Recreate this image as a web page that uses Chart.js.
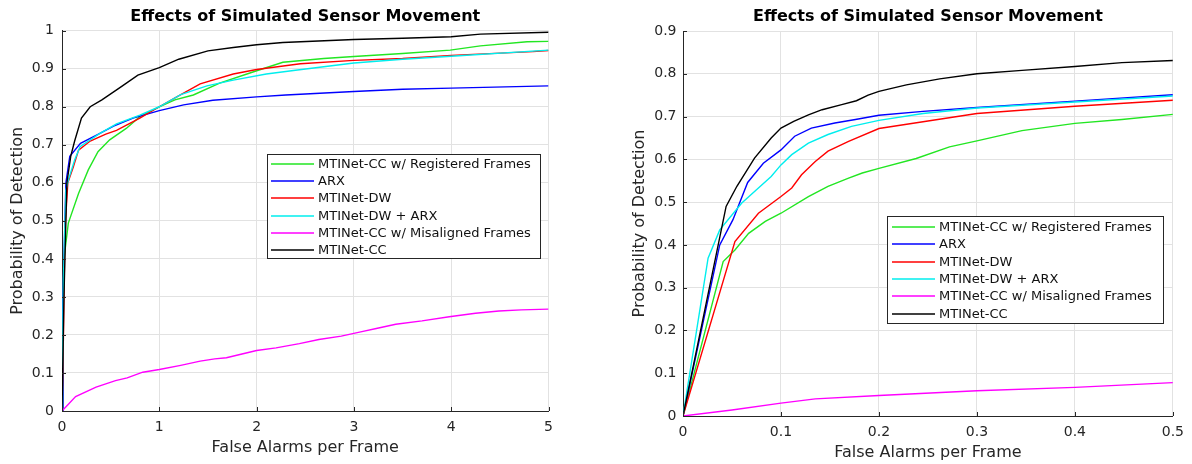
<!DOCTYPE html>
<html>
<head>
<meta charset="utf-8">
<script src="https://cdn.jsdelivr.net/npm/chart.js@4.4.1/dist/chart.umd.min.js"></script>
<style>
  html, body { margin: 0; padding: 0; background: #fff; }
  #wrap { position: relative; width: 1192px; height: 464px; overflow: hidden; }
  .pane { position: absolute; top: 0; height: 464px; }
  #paneA { left: 0; width: 600px; }
  #paneB { left: 600px; width: 592px; }
</style>
</head>
<body>
<div id="wrap">
  <div class="pane" id="paneA"><canvas id="chartA"></canvas></div>
  <div class="pane" id="paneB"><canvas id="chartB"></canvas></div>
</div>
<script>
// ---- shared text ----
const TITLE = 'Effects of Simulated Sensor Movement';
const X_LABEL = 'False Alarms per Frame';
const Y_LABEL = 'Probability of Detection';
const SERIES_NAMES = [
  'MTINet-CC w/ Registered Frames',
  'ARX',
  'MTINet-DW',
  'MTINet-DW + ARX',
  'MTINet-CC w/ Misaligned Frames',
  'MTINet-CC'
];
const SERIES_COLORS = ['#22e622', '#0000ff', '#ff0000', '#00eeee', '#ff00ff', '#000000'];

// ---- left panel: full range (false alarms 0..5) ----
const A_X_TICKS = ['0', '1', '2', '3', '4', '5'];
const A_Y_TICKS = ['0', '0.1', '0.2', '0.3', '0.4', '0.5', '0.6', '0.7', '0.8', '0.9', '1'];
const A_REGISTERED = [[0,0],[0.01,0.25],[0.02,0.40],[0.065,0.494],[0.17,0.572],[0.27,0.634],[0.37,0.682],[0.49,0.713],[0.66,0.743],[0.8,0.774],[1.0,0.80],[1.16,0.818],[1.35,0.831],[1.62,0.862],[1.97,0.892],[2.27,0.917],[2.69,0.927],[3.0,0.932],[3.5,0.94],[3.99,0.949],[4.3,0.96],[4.78,0.971],[5.0,0.972]];
const A_ARX = [[0,0],[0.01,0.30],[0.04,0.60],[0.08,0.67],[0.19,0.704],[0.36,0.726],[0.53,0.749],[0.73,0.77],[1.0,0.79],[1.25,0.805],[1.55,0.817],[2.0,0.826],[2.3,0.831],[3.0,0.84],[3.5,0.846],[4.0,0.849],[5.0,0.855]];
const A_DW = [[0,0],[0.015,0.20],[0.03,0.476],[0.06,0.60],[0.117,0.642],[0.17,0.686],[0.29,0.71],[0.45,0.728],[0.56,0.738],[0.8,0.77],[1.0,0.80],[1.18,0.826],[1.42,0.86],[1.76,0.886],[2.0,0.898],[2.45,0.913],[3.0,0.922],[3.5,0.927],[4.0,0.935],[4.84,0.945],[5.0,0.948]];
const A_DW_ARX = [[0,0],[0.015,0.35],[0.04,0.58],[0.065,0.607],[0.13,0.66],[0.185,0.695],[0.39,0.73],[0.56,0.755],[0.8,0.778],[1.0,0.80],[1.22,0.832],[1.49,0.855],[1.76,0.87],[2.1,0.886],[2.4,0.896],[3.0,0.915],[3.5,0.925],[4.0,0.933],[5.0,0.949]];
const A_MISALIGNED = [[0,0],[0.14,0.038],[0.35,0.063],[0.55,0.08],[0.67,0.087],[0.83,0.102],[1.0,0.109],[1.22,0.12],[1.42,0.131],[1.57,0.137],[1.69,0.14],[1.85,0.15],[2.0,0.159],[2.2,0.166],[2.44,0.177],[2.64,0.188],[2.87,0.197],[3.07,0.208],[3.23,0.217],[3.43,0.228],[3.7,0.237],[3.98,0.248],[4.25,0.257],[4.49,0.263],[4.72,0.266],[5.0,0.268]];
const A_CC = [[0,0],[0.02,0.30],[0.05,0.60],[0.09,0.67],[0.13,0.71],[0.2,0.77],[0.29,0.80],[0.41,0.818],[0.61,0.853],[0.78,0.883],[1.0,0.903],[1.2,0.925],[1.5,0.947],[1.76,0.956],[2.0,0.963],[2.27,0.969],[3.0,0.977],[3.5,0.98],[4.0,0.984],[4.3,0.991],[5.0,0.996]];

// ---- right panel: low false-alarm region (0..0.5) ----
const B_X_TICKS = ['0', '0.1', '0.2', '0.3', '0.4', '0.5'];
const B_Y_TICKS = ['0', '0.1', '0.2', '0.3', '0.4', '0.5', '0.6', '0.7', '0.8', '0.9'];
const B_REGISTERED = [[0,0],[0.041,0.361],[0.053,0.388],[0.067,0.427],[0.084,0.455],[0.1,0.474],[0.128,0.513],[0.148,0.537],[0.169,0.556],[0.183,0.568],[0.2,0.579],[0.238,0.602],[0.272,0.629],[0.3,0.643],[0.346,0.667],[0.4,0.684],[0.448,0.693],[0.5,0.705]];
const B_ARX = [[0,0],[0.0375,0.40],[0.051,0.459],[0.066,0.546],[0.082,0.591],[0.1,0.622],[0.114,0.654],[0.131,0.673],[0.155,0.685],[0.176,0.693],[0.2,0.703],[0.245,0.712],[0.3,0.721],[0.4,0.736],[0.5,0.751]];
const B_DW = [[0,0],[0.053,0.408],[0.077,0.474],[0.1,0.513],[0.111,0.533],[0.121,0.564],[0.135,0.595],[0.148,0.619],[0.169,0.642],[0.2,0.672],[0.245,0.688],[0.3,0.707],[0.4,0.724],[0.5,0.738]];
const B_DW_ARX = [[0,0],[0.0256,0.369],[0.0375,0.435],[0.06,0.498],[0.075,0.529],[0.09,0.56],[0.1,0.587],[0.111,0.611],[0.128,0.638],[0.148,0.658],[0.172,0.677],[0.2,0.691],[0.245,0.707],[0.3,0.72],[0.4,0.734],[0.5,0.748]];
const B_MISALIGNED = [[0,0],[0.05,0.014],[0.1,0.03],[0.135,0.04],[0.2,0.048],[0.3,0.059],[0.4,0.067],[0.5,0.078]];
const B_CC = [[0,0],[0.044,0.49],[0.055,0.537],[0.073,0.603],[0.09,0.65],[0.1,0.673],[0.113,0.689],[0.128,0.704],[0.142,0.716],[0.162,0.728],[0.177,0.737],[0.189,0.75],[0.2,0.759],[0.228,0.774],[0.262,0.788],[0.3,0.80],[0.346,0.808],[0.4,0.817],[0.448,0.826],[0.5,0.831]];

const FONT = '"DejaVu Sans", "Liberation Sans", sans-serif';
const AXIS_COLOR = '#262626';
const GRID_COLOR = '#e2e2e2';

// Legend drawn as an outlined box inside the plot, MATLAB style
const boxLegend = {
  id: 'boxLegend',
  afterDraw(chart, args, o) {
    const ctx = chart.ctx;
    ctx.save();
    ctx.fillStyle = '#fff';
    ctx.fillRect(o.left, o.top, o.width, o.height);
    ctx.strokeStyle = AXIS_COLOR;
    ctx.lineWidth = 1;
    ctx.strokeRect(Math.round(o.left) + 0.5, Math.round(o.top) + 0.5, o.width, o.height);
    ctx.font = '13px ' + FONT;
    ctx.textBaseline = 'middle';
    ctx.textAlign = 'left';
    chart.data.datasets.forEach((ds, i) => {
      const y = Math.round(o.top + o.firstRow + i * o.rowStep);
      ctx.strokeStyle = ds.borderColor;
      ctx.lineWidth = 1.6;
      ctx.beginPath();
      ctx.moveTo(o.left + o.lineStart, y);
      ctx.lineTo(o.left + o.lineStart + o.lineLen, y);
      ctx.stroke();
      ctx.fillStyle = '#111';
      ctx.fillText(ds.label, o.left + o.textStart, y + 0.5);
    });
    ctx.restore();
  }
};

// Short inward tick marks on the left and bottom axes
const innerTicks = {
  id: 'innerTicks',
  afterDatasetsDraw(chart) {
    const ctx = chart.ctx;
    const xs = chart.scales.x, ys = chart.scales.y;
    const area = chart.chartArea;
    ctx.save();
    ctx.strokeStyle = AXIS_COLOR;
    ctx.lineWidth = 1;
    ctx.beginPath();
    xs.ticks.forEach((t, i) => {
      const px = Math.round(xs.getPixelForTick(i)) + 0.5;
      ctx.moveTo(px, area.bottom);
      ctx.lineTo(px, area.bottom - 4);
    });
    ys.ticks.forEach((t, i) => {
      const py = Math.round(ys.getPixelForTick(i)) + 0.5;
      ctx.moveTo(area.left, py);
      ctx.lineTo(area.left + 4, py);
    });
    ctx.stroke();
    ctx.restore();
  }
};

function buildDatasets(seriesList) {
  return seriesList.map((pts, i) => ({
    label: SERIES_NAMES[i],
    data: pts.map(p => ({ x: p[0], y: p[1] })),
    borderColor: SERIES_COLORS[i],
    backgroundColor: SERIES_COLORS[i],
    borderWidth: 1.4,
    pointRadius: 0,
    tension: 0,
    fill: false,
    order: seriesList.length - i
  }));
}

function makeChart(canvasId, cfg) {
  return new Chart(document.getElementById(canvasId), {
    type: 'line',
    data: { datasets: buildDatasets(cfg.series) },
    plugins: [innerTicks, boxLegend],
    options: {
      responsive: true,
      maintainAspectRatio: false,
      animation: false,
      events: [],
      layout: { padding: { left: 0, right: cfg.padRight, top: 0, bottom: 0 } },
      scales: {
        x: {
          type: 'linear',
          min: 0,
          max: cfg.xMax,
          afterBuildTicks(scale) {
            scale.ticks = cfg.xTicks.map((_, i) => ({ value: i * cfg.xStep }));
          },
          afterFit(scale) { scale.height = cfg.xAxisHeight; },
          ticks: {
            padding: 8,
            maxRotation: 0,
            autoSkip: false,
            color: AXIS_COLOR,
            font: { family: FONT, size: 14 },
            callback: (v, i) => cfg.xTicks[i]
          },
          grid: { color: GRID_COLOR, lineWidth: 1, drawTicks: false },
          border: { color: AXIS_COLOR, width: 1 },
          title: {
            display: true,
            text: X_LABEL,
            color: AXIS_COLOR,
            font: { family: FONT, size: 16 },
            padding: { top: 0, bottom: cfg.xTitlePad }
          }
        },
        y: {
          type: 'linear',
          min: 0,
          max: cfg.yMax,
          afterBuildTicks(scale) {
            scale.ticks = cfg.yTicks.map((_, i) => ({ value: i * 0.1 }));
          },
          afterFit(scale) { scale.width = cfg.yAxisWidth; },
          ticks: {
            padding: cfg.yTickPad,
            autoSkip: false,
            color: AXIS_COLOR,
            font: { family: FONT, size: 14 },
            callback: (v, i) => cfg.yTicks[i]
          },
          grid: { color: GRID_COLOR, lineWidth: 1, drawTicks: false },
          border: { color: AXIS_COLOR, width: 1 },
          title: {
            display: true,
            text: Y_LABEL,
            color: AXIS_COLOR,
            font: { family: FONT, size: 16 },
            padding: { top: cfg.yTitlePad, bottom: 0 }
          }
        }
      },
      plugins: {
        legend: { display: false },
        tooltip: { enabled: false },
        title: {
          display: true,
          fullSize: false,
          text: TITLE,
          color: '#000',
          font: { family: FONT, size: 16, weight: 'bold' },
          padding: { top: 7, bottom: cfg.titleBottom }
        },
        boxLegend: cfg.legend
      }
    }
  });
}

makeChart('chartA', {
  series: [A_REGISTERED, A_ARX, A_DW, A_DW_ARX, A_MISALIGNED, A_CC],
  xTicks: A_X_TICKS, yTicks: A_Y_TICKS,
  xMax: 5, xStep: 1, yMax: 1,
  padRight: 51.5, yAxisWidth: 62, xAxisHeight: 53,
  yTickPad: 8, yTitlePad: 8.4, xTitlePad: 6.4, titleBottom: 4.5,
  legend: { left: 267, top: 154, width: 273, height: 104, firstRow: 10, rowStep: 17.2, lineStart: 4, lineLen: 43, textStart: 51 }
});

makeChart('chartB', {
  series: [B_REGISTERED, B_ARX, B_DW, B_DW_ARX, B_MISALIGNED, B_CC],
  xTicks: B_X_TICKS, yTicks: B_Y_TICKS,
  xMax: 0.5, xStep: 0.1, yMax: 0.9,
  padRight: 18, yAxisWidth: 83, xAxisHeight: 48,
  yTickPad: 6.5, yTitlePad: 30.4, xTitlePad: 1.4, titleBottom: 4.8,
  legend: { left: 287, top: 216, width: 276, height: 107, firstRow: 10.7, rowStep: 17.4, lineStart: 5, lineLen: 43, textStart: 52 }
});
</script>
</body>
</html>
